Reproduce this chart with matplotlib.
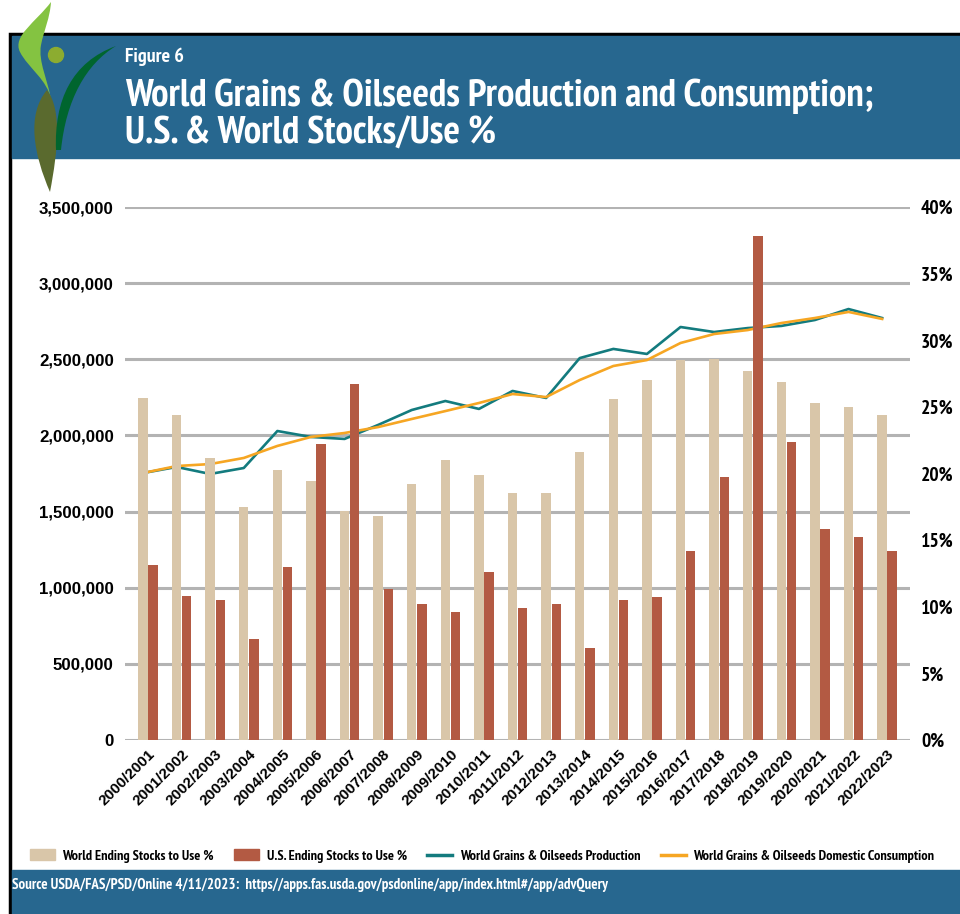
import matplotlib.pyplot as plt
import numpy as np
from matplotlib.patches import Rectangle, Circle, PathPatch
from matplotlib.path import Path
from matplotlib.lines import Line2D
from matplotlib.transforms import Affine2D
from matplotlib.ticker import FuncFormatter

seasons = ["2000/2001", "2001/2002", "2002/2003", "2003/2004", "2004/2005",
           "2005/2006", "2006/2007", "2007/2008", "2008/2009", "2009/2010",
           "2010/2011", "2011/2012", "2012/2013", "2013/2014", "2014/2015",
           "2015/2016", "2016/2017", "2017/2018", "2018/2019", "2019/2020",
           "2020/2021", "2021/2022", "2022/2023"]

# stocks to use, percent (right axis)
world_stu = [25.7, 24.4, 21.2, 17.5, 20.3, 19.4, 17.2, 16.8, 19.2, 21.0, 19.9, 18.5,
             18.5, 21.6, 25.6, 27.0, 28.5, 28.6, 27.7, 26.9, 25.3, 25.0, 24.4]
us_stu = [13.1, 10.8, 10.5, 7.6, 13.0, 22.2, 26.7, 11.3, 10.2, 9.6, 12.6, 9.9,
          10.2, 6.9, 10.5, 10.7, 14.2, 19.7, 37.8, 22.4, 15.8, 15.2, 14.2]

# production / consumption (left axis)
production = [1753000, 1793000, 1747000, 1786000, 2029000, 1990000, 1977000, 2069000,
              2167000, 2226000, 2174000, 2292000, 2246000, 2508000, 2568000, 2535000,
              2712000, 2679000, 2705000, 2719000, 2758000, 2830000, 2771000]
consumption = [1753000, 1799000, 1812000, 1852000, 1931000, 1990000, 2016000, 2055000,
               2108000, 2160000, 2213000, 2272000, 2252000, 2364000, 2456000, 2495000,
               2607000, 2666000, 2692000, 2738000, 2771000, 2811000, 2765000]

left_ticks = [0, 500000, 1000000, 1500000, 2000000, 2500000, 3000000, 3500000]
right_ticks = [0, 5, 10, 15, 20, 25, 30, 35, 40]

TAN = "#d9c6a9"
RED = "#b35a43"
TEAL = "#137b7e"
ORANGE = "#f6a623"
BLUE = "#27678f"
GRID = "#b3b3b3"
NARROW = ["PT Sans Narrow", "Roboto Condensed", "Fira Sans Condensed",
          "Archivo Narrow", "DejaVu Sans"]
ARIAL = ["Liberation Sans", "DejaVu Sans"]

W, H = 960, 914
fig = plt.figure(figsize=(W / 100, H / 100), dpi=100)
pix = Affine2D().scale(1 / W, -1 / H).translate(0, 1) + fig.transFigure

# frame, header, footer
fig.add_artist(Rectangle((10, 34), 960, 900, transform=pix, facecolor="white",
                         edgecolor="black", lw=2.5, zorder=0))
fig.add_artist(Rectangle((12, 36), 950, 122, transform=pix, color=BLUE, zorder=1))
fig.add_artist(Rectangle((12, 870), 950, 46, transform=pix, color=BLUE, zorder=1))

# logo
def blob(verts, color):
    codes = [Path.MOVETO] + [Path.CURVE4] * (len(verts) - 1)
    fig.add_artist(PathPatch(Path(verts, codes), transform=pix, facecolor=color,
                             edgecolor="none", zorder=5))

blob([(51, 2), (36, 22), (12, 36), (20, 52), (28, 68), (48, 80), (51, 100),
      (48, 80), (38, 62), (41, 45), (44, 30), (50, 18), (51, 2)], "#84c341")
blob([(47, 90), (26, 115), (34, 155), (50, 192), (58, 150), (62, 110), (47, 90)], "#5a6a2e")
blob([(56, 150), (54, 100), (72, 62), (116, 46), (86, 64), (66, 100), (61, 150)], "#00652e")
fig.add_artist(Circle((56, 55), 7.5, transform=pix, color="#8cac30", zorder=6))

fig.text(125 / W, 1 - 57 / H, "Figure 6", color="white", fontsize=14.5,
         fontweight="bold", family=NARROW, va="center")
fig.text(125 / W, 1 - 115 / H,
         "World Grains & Oilseeds Production and Consumption;\nU.S. & World Stocks/Use %",
         color="white", fontsize=28, fontweight="bold", family=NARROW, va="center",
         linespacing=1.12)
fig.text(12 / W, 1 - 885 / H,
         "Source USDA/FAS/PSD/Online 4/11/2023:  https//apps.fas.usda.gov/psdonline/app/index.html#/app/advQuery",
         color="white", fontsize=10.7, fontweight="bold", family=NARROW, va="center")

# chart
ax = fig.add_axes([125 / W, 1 - 740 / H, 785 / W, 533 / H])
ax.set_zorder(2)
ax2 = ax.twinx()

x = np.arange(len(seasons))
ax.plot(x - 0.15, production, color=TEAL, lw=1.9, zorder=3)
ax.plot(x - 0.15, consumption, color=ORANGE, lw=1.9, zorder=3)
ax2.bar(x - 0.15, world_stu, width=0.28, color=TAN)
ax2.bar(x + 0.15, us_stu, width=0.28, color=RED)

ax.set_ylim(0, 3500000)
ax2.set_ylim(0, 40)
ax.set_xlim(-0.685, 22.68)
ax.set_yticks(left_ticks)
ax.yaxis.set_major_formatter(FuncFormatter(lambda v, p: f"{int(v):,}"))
ax2.set_yticks(right_ticks)
ax2.yaxis.set_major_formatter(FuncFormatter(lambda v, p: f"{int(v)}%"))
ax.set_xticks(x)
ax.set_xticklabels(seasons, rotation=45, ha="right", rotation_mode="anchor",
                   fontsize=11, fontweight="bold", family=ARIAL)
ax.grid(axis="y", color=GRID, lw=2.2)
ax.set_axisbelow(True)
for a in (ax, ax2):
    for s in a.spines.values():
        s.set_visible(False)
    a.tick_params(length=0)
ax.tick_params(axis="y", pad=8)
ax.tick_params(axis="x", pad=5)
ax2.tick_params(axis="y", pad=8)
for t in ax.get_yticklabels():
    t.set_fontsize(12.2)
    t.set_fontweight("bold")
    t.set_family(ARIAL)
for t in ax2.get_yticklabels():
    t.set_fontsize(14)
    t.set_fontweight("bold")
    t.set_family(NARROW)

handles = [Rectangle((0, 0), 1, 1, color=TAN), Rectangle((0, 0), 1, 1, color=RED),
           Line2D([], [], color=TEAL, lw=2.5), Line2D([], [], color=ORANGE, lw=2.5)]
labels = ["World Ending Stocks to Use %", "U.S. Ending Stocks to Use %",
          "World Grains & Oilseeds Production", "World Grains & Oilseeds Domestic Consumption"]
fig.legend(handles, labels, loc="center", bbox_to_anchor=(482 / W, 1 - 856 / H), ncol=4,
           frameon=False, prop={"family": NARROW, "weight": "bold", "size": 10.3},
           handlelength=1.75, handletextpad=0.5, columnspacing=1.45)

fig.savefig("out.png", dpi=100)
